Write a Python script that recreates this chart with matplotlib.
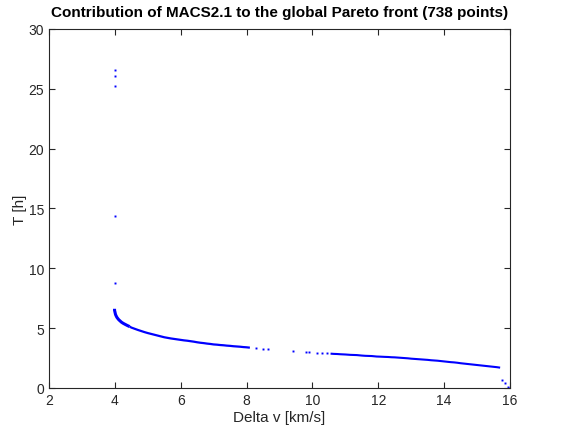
import matplotlib
matplotlib.use("Agg")
import matplotlib.pyplot as plt

plt.rcParams['font.family'] = ['Liberation Sans', 'DejaVu Sans']

# Pareto front points contributed by MACS2.1: delta v [km/s] vs transfer time [h]
outlier_dv = [3.99, 3.99, 3.99, 3.99, 3.99]
outlier_t = [8.75, 14.35, 25.2, 26.1, 26.55]

# dense branch at low delta v
low_dv = [3.99, 3.99, 4.00, 4.01, 4.02, 4.04, 4.06, 4.09, 4.12, 4.16,
          4.20, 4.25, 4.31, 4.38, 4.45,
          4.5, 4.6, 4.7, 4.8, 4.9, 5.0, 5.1, 5.2, 5.3, 5.4,
          5.5, 5.6, 5.7, 5.8, 5.9, 6.0, 6.1, 6.2, 6.3, 6.4,
          6.5, 6.6, 6.7, 6.8, 6.9, 7.0, 7.1, 7.2, 7.3, 7.4,
          7.5, 7.6, 7.7, 7.8, 7.9, 8.0, 8.1]
low_t = [6.62, 6.50, 6.38, 6.26, 6.14, 6.02, 5.91, 5.80, 5.70, 5.60,
         5.50, 5.41, 5.32, 5.22, 5.13,
         5.05, 4.95, 4.85, 4.76, 4.67, 4.59, 4.52, 4.45, 4.38, 4.31,
         4.24, 4.19, 4.14, 4.10, 4.06, 4.02, 3.98, 3.95, 3.91, 3.87,
         3.82, 3.78, 3.75, 3.71, 3.68, 3.64, 3.62, 3.59, 3.57, 3.54,
         3.52, 3.49, 3.47, 3.45, 3.42, 3.40, 3.37]

# scattered solutions in the gap
gap_dv = [8.3, 8.5, 8.65, 9.4, 9.8, 9.9, 10.15, 10.3, 10.45]
gap_t = [3.32, 3.27, 3.25, 3.10, 3.03, 3.03, 2.94, 2.92, 2.90]

# dense branch at high delta v
high_dv = [10.55, 10.65, 10.75, 10.85, 11.0, 11.15, 11.25, 11.35, 11.5, 11.6,
           11.7, 11.8, 11.95, 12.05, 12.2, 12.3, 12.4, 12.5, 12.6, 12.7,
           12.8, 12.9, 13.0, 13.1, 13.2, 13.3, 13.4, 13.5, 13.6, 13.7,
           13.8, 13.9, 14.0, 14.1, 14.2, 14.3, 14.4, 14.5, 14.6, 14.7,
           14.8, 14.9, 15.0, 15.1, 15.2, 15.3, 15.4, 15.5, 15.6, 15.7]
high_t = [2.87, 2.85, 2.84, 2.82, 2.80, 2.77, 2.76, 2.75, 2.71, 2.69,
          2.68, 2.67, 2.63, 2.62, 2.60, 2.59, 2.57, 2.56, 2.54, 2.52,
          2.50, 2.48, 2.45, 2.43, 2.41, 2.39, 2.37, 2.35, 2.32, 2.30,
          2.28, 2.25, 2.22, 2.19, 2.16, 2.14, 2.11, 2.07, 2.04, 2.01,
          1.98, 1.95, 1.92, 1.89, 1.86, 1.83, 1.80, 1.77, 1.74, 1.70]

tail_dv = [15.75, 15.85, 15.95, 16.0]
tail_t = [0.70, 0.40, 0.10, 0.02]

x_ticks = [2, 4, 6, 8, 10, 12, 14, 16]
y_ticks = [0, 5, 10, 15, 20, 25, 30]

fig = plt.figure(figsize=(5.62, 4.39), dpi=100)
ax = fig.add_axes([0.0872, 0.1139, 0.8203, 0.8178])

blue = '#0000ff'
# dense parts of the front read as a continuous band
ax.plot(low_dv[:15], low_t[:15], '-', lw=2.2, color=blue, solid_capstyle='butt')
ax.plot(low_dv[14:], low_t[14:], '-', lw=1.6, color=blue, solid_capstyle='butt')
ax.plot(high_dv, high_t, '-', lw=1.5, color=blue, solid_capstyle='butt')
for dv, t in [(outlier_dv, outlier_t), (gap_dv, gap_t), (tail_dv, tail_t)]:
    ax.plot(dv, t, 's', ms=1.4, mew=0, color=blue)

ax.set_xlim(2, 16)
ax.set_ylim(0, 30)
ax.set_xticks(x_ticks)
ax.set_yticks(y_ticks)

dark = '#262626'
for s in ax.spines.values():
    s.set_color(dark)
    s.set_linewidth(0.8)
ax.tick_params(direction='in', length=4, width=0.8, colors=dark,
               labelsize=10, top=True, right=True)

ax.set_xlabel('Delta v [km/s]', fontsize=11, color=dark, labelpad=2)
ax.set_ylabel('T [h]', fontsize=11, color=dark, labelpad=1)
ax.set_title('Contribution of MACS2.1 to the global Pareto front (738 points)',
             fontsize=11, fontweight='bold', pad=9)

fig.savefig('out.png', dpi=100)
